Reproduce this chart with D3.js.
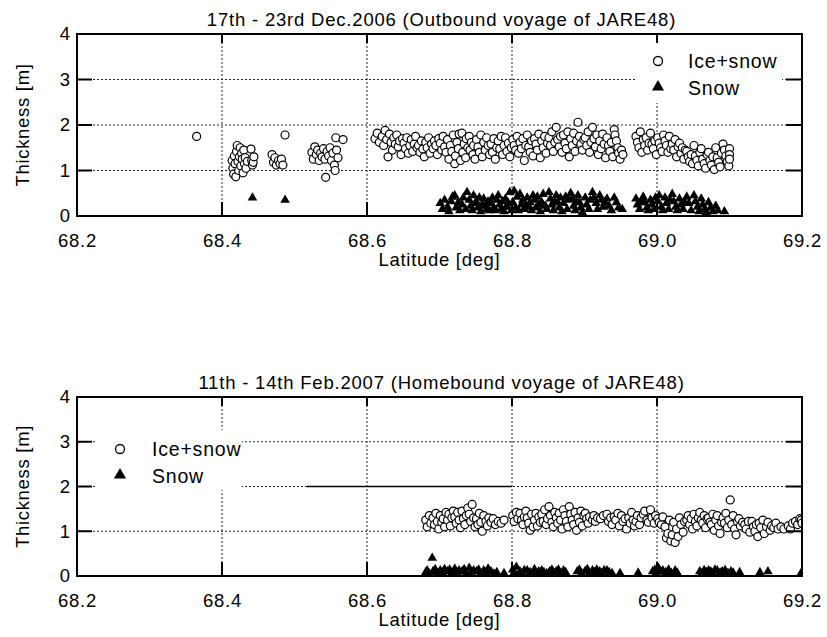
<!DOCTYPE html>
<html>
<head>
<meta charset="utf-8">
<script src="https://cdn.jsdelivr.net/npm/d3@7"></script>
<style>
  body { margin: 0; background: #fff; }
  text { font-family: "Liberation Sans", Arial, sans-serif; }
</style>
</head>
<body>
<div class="chart"></div>
<script>
// axis ticks
const latTicks = [68.2, 68.4, 68.6, 68.8, 69.0, 69.2];
const thkTicks = [0, 1, 2, 3, 4];

// titles
const outTitle = "17th - 23rd Dec.2006 (Outbound voyage of JARE48)";
const inTitle = "11th - 14th Feb.2007 (Homebound voyage of JARE48)";
const legendNames = ["Ice+snow", "Snow"];

// outbound: [latitude, thickness]
const outIce = [
  [68.365,1.75],
  [68.414,1.22],[68.415,1.05],[68.416,0.92],[68.417,1.32],[68.418,1.15],[68.419,0.86],[68.42,1.42],[68.421,1.55],
  [68.422,1.20],[68.423,1.00],[68.424,1.30],[68.425,1.50],[68.426,1.10],[68.427,1.38],[68.428,1.25],[68.429,0.95],
  [68.43,1.45],[68.431,1.15],[68.432,1.28],[68.433,1.05],[68.435,1.20],
  [68.44,1.47],[68.441,1.22],[68.442,1.12],[68.443,1.18],[68.444,1.30],
  [68.469,1.35],[68.471,1.18],[68.473,1.28],[68.475,1.12],[68.478,1.22],[68.48,1.15],[68.482,1.25],[68.484,1.12],[68.487,1.78],
  [68.524,1.40],[68.526,1.25],[68.528,1.52],[68.53,1.35],[68.532,1.45],[68.534,1.22],[68.536,1.38],[68.538,1.30],
  [68.54,1.48],[68.542,1.25],[68.543,0.85],[68.545,1.42],[68.547,1.32],[68.549,1.50],[68.551,1.22],[68.553,1.38],
  [68.555,1.12],[68.556,1.00],[68.557,1.72],[68.558,1.45],[68.56,1.28],[68.567,1.68],
  [68.611,1.70],[68.614,1.82],[68.617,1.62],
  [68.621,1.75],[68.623,1.55],[68.625,1.88],[68.627,1.68],[68.629,1.30],
  [68.631,1.80],[68.633,1.62],[68.635,1.45],[68.637,1.72],[68.639,1.58],
  [68.641,1.78],[68.643,1.52],[68.645,1.65],[68.647,1.35],[68.649,1.70],
  [68.651,1.60],[68.653,1.48],[68.655,1.72],[68.657,1.38],[68.659,1.55],
  [68.661,1.68],[68.663,1.42],[68.665,1.58],[68.667,1.75],[68.669,1.50],
  [68.671,1.55],[68.673,1.40],[68.675,1.65],[68.677,1.47],[68.679,1.30],
  [68.681,1.62],[68.683,1.50],[68.685,1.72],[68.687,1.38],[68.689,1.58],
  [68.691,1.48],[68.693,1.65],[68.695,1.55],[68.697,1.35],[68.699,1.70],
  [68.701,1.60],[68.703,1.45],[68.705,1.75],[68.707,1.52],[68.709,1.40],
  [68.711,1.68],[68.713,1.25],[68.715,1.55],[68.717,1.42],[68.719,1.78],
  [68.721,1.15],[68.722,1.32],[68.724,1.62],[68.726,1.48],[68.727,1.80],[68.729,1.22],
  [68.731,1.82],[68.732,1.40],[68.734,1.58],[68.736,1.28],[68.737,1.70],[68.739,1.50],
  [68.741,1.75],[68.742,1.45],[68.744,1.62],[68.746,1.35],[68.747,1.55],[68.749,1.25],
  [68.751,1.68],[68.753,1.52],[68.755,1.40],[68.757,1.78],[68.759,1.30],
  [68.761,1.62],[68.763,1.45],[68.765,1.72],[68.767,1.55],[68.769,1.35],
  [68.771,1.58],[68.773,1.40],[68.775,1.70],[68.777,1.25],[68.779,1.50],
  [68.781,1.65],[68.783,1.48],[68.785,1.75],[68.787,1.35],[68.789,1.55],
  [68.791,1.72],[68.793,1.42],[68.795,1.60],[68.797,1.30],[68.799,1.50],
  [68.801,1.68],[68.803,1.55],[68.805,1.45],[68.807,1.75],[68.809,1.38],
  [68.811,1.62],[68.813,1.48],[68.815,1.70],[68.817,1.22],[68.819,1.55],
  [68.821,1.78],[68.823,1.52],[68.825,1.40],[68.827,1.65],[68.829,1.32],
  [68.831,1.70],[68.833,1.58],[68.835,1.45],[68.837,1.80],[68.839,1.28],
  [68.841,1.65],[68.843,1.50],[68.845,1.75],[68.847,1.38],[68.849,1.60],
  [68.851,1.72],[68.853,1.55],[68.855,1.85],[68.857,1.42],[68.859,1.62],
  [68.861,1.95],[68.863,1.68],[68.865,1.52],[68.867,1.75],[68.869,1.40],
  [68.871,1.78],[68.873,1.60],[68.875,1.48],[68.877,1.85],[68.879,1.30],
  [68.881,1.70],[68.883,1.55],[68.885,1.82],[68.887,1.42],[68.889,1.65],
  [68.891,2.06],[68.893,1.75],[68.895,1.58],[68.897,1.45],[68.899,1.68],
  [68.901,1.72],[68.903,1.55],[68.905,1.85],[68.907,1.40],[68.909,1.62],
  [68.911,1.95],[68.913,1.70],[68.915,1.52],[68.917,1.78],[68.919,1.35],
  [68.921,1.65],[68.923,1.48],[68.925,1.80],[68.927,1.58],[68.929,1.28],
  [68.931,1.72],[68.933,1.55],[68.935,1.42],[68.937,1.62],[68.939,1.30],
  [68.941,1.90],[68.942,1.78],[68.944,1.65],[68.946,1.50],[68.947,1.38],[68.949,1.25],
  [68.951,1.45],[68.953,1.35],
  [68.971,1.75],[68.973,1.62],[68.975,1.50],[68.977,1.85],[68.979,1.40],
  [68.981,1.68],[68.983,1.55],[68.985,1.72],[68.987,1.45],[68.989,1.60],
  [68.991,1.82],[68.993,1.58],[68.995,1.48],[68.997,1.65],[68.999,1.35],
  [69.001,1.72],[69.003,1.60],[69.005,1.50],[69.007,1.42],[69.009,1.78],
  [69.011,1.65],[69.013,1.55],[69.015,1.40],[69.017,1.75],[69.019,1.48],
  [69.021,1.58],[69.023,1.45],[69.025,1.68],[69.027,1.30],[69.029,1.52],
  [69.031,1.60],[69.033,1.38],[69.035,1.50],[69.037,1.25],[69.039,1.45],
  [69.041,1.42],[69.043,1.30],[69.045,1.20],[69.047,1.35],[69.049,1.15],
  [69.051,1.55],[69.053,1.32],[69.055,1.22],[69.057,1.10],[69.059,1.40],
  [69.061,1.48],[69.063,1.25],[69.065,1.15],[69.067,1.05],[69.069,1.35],
  [69.071,1.40],[69.073,1.22],[69.075,1.12],[69.077,1.30],[69.079,1.02],
  [69.081,1.50],[69.083,1.28],[69.085,1.18],[69.087,1.08],[69.089,1.38],
  [69.091,1.58],[69.093,1.45],[69.095,1.32],[69.097,1.20],[69.099,1.10],
  [69.1,1.48],[69.1,1.35],[69.1,1.25]
];

const outSnow = [
  [68.442,0.40],[68.487,0.35],
  [68.701,0.28],[68.704,0.15],[68.707,0.35],
  [68.711,0.20],[68.713,0.10],[68.716,0.32],[68.718,0.42],
  [68.721,0.45],[68.723,0.18],[68.726,0.30],[68.728,0.12],
  [68.731,0.25],[68.733,0.40],[68.736,0.15],[68.738,0.52],
  [68.741,0.35],[68.743,0.22],[68.745,0.12],[68.747,0.45],[68.749,0.28],
  [68.751,0.30],[68.753,0.18],[68.755,0.40],[68.757,0.10],[68.759,0.25],
  [68.761,0.38],[68.763,0.22],[68.765,0.15],[68.767,0.32],[68.769,0.12],
  [68.771,0.28],[68.773,0.40],[68.775,0.18],[68.777,0.12],[68.779,0.35],
  [68.781,0.45],[68.783,0.25],[68.785,0.15],[68.787,0.32],[68.789,0.10],
  [68.791,0.38],[68.793,0.20],[68.795,0.28],[68.797,0.52],[68.799,0.12],
  [68.801,0.30],[68.803,0.55],[68.805,0.18],[68.807,0.42],[68.809,0.12],
  [68.811,0.48],[68.813,0.25],[68.815,0.35],[68.817,0.15],[68.819,0.22],
  [68.821,0.40],[68.823,0.20],[68.825,0.30],[68.827,0.12],[68.829,0.45],
  [68.831,0.35],[68.833,0.18],[68.835,0.42],[68.837,0.25],[68.839,0.10],
  [68.841,0.30],[68.843,0.48],[68.846,0.22],[68.848,0.15],
  [68.851,0.52],[68.853,0.38],[68.855,0.25],[68.857,0.12],[68.859,0.30],
  [68.861,0.45],[68.863,0.30],[68.865,0.18],[68.867,0.40],[68.869,0.10],
  [68.871,0.28],[68.874,0.42],[68.876,0.15],[68.878,0.35],
  [68.881,0.50],[68.883,0.38],[68.885,0.22],[68.887,0.12],[68.889,0.30],
  [68.891,0.45],[68.893,0.30],[68.895,0.18],[68.897,0.08],
  [68.901,0.40],[68.903,0.25],[68.906,0.15],[68.908,0.35],
  [68.911,0.52],[68.913,0.40],[68.916,0.28],[68.918,0.15],
  [68.921,0.45],[68.923,0.35],[68.926,0.20],[68.928,0.30],
  [68.931,0.38],[68.934,0.22],[68.937,0.12],
  [68.941,0.40],[68.944,0.30],[68.947,0.18],
  [68.952,0.15],
  [68.971,0.38],[68.973,0.25],[68.976,0.15],[68.978,0.30],
  [68.981,0.42],[68.983,0.30],[68.986,0.18],[68.988,0.12],
  [68.991,0.35],[68.993,0.25],[68.996,0.15],[68.998,0.40],
  [69.001,0.32],[69.003,0.45],[69.006,0.20],[69.008,0.12],
  [69.011,0.40],[69.013,0.28],[69.016,0.15],[69.018,0.35],
  [69.021,0.48],[69.023,0.32],[69.026,0.20],[69.028,0.12],
  [69.031,0.38],[69.033,0.25],[69.036,0.15],[69.038,0.30],
  [69.041,0.42],[69.044,0.28],[69.047,0.12],
  [69.051,0.45],[69.053,0.32],[69.056,0.20],[69.058,0.10],
  [69.061,0.38],[69.063,0.25],[69.066,0.15],[69.068,0.08],
  [69.071,0.30],[69.074,0.18],[69.077,0.10],
  [69.081,0.22],[69.084,0.12],
  [69.093,0.10]
];

// homebound: [latitude, thickness]
const inIce = [
  [68.681,1.25],[68.683,1.10],[68.686,1.35],[68.688,1.18],
  [68.691,1.30],[68.693,1.15],[68.695,1.40],[68.697,1.22],[68.699,1.05],
  [68.701,1.35],[68.703,1.20],[68.705,1.28],[68.707,1.10],[68.709,1.42],
  [68.711,1.25],[68.713,1.38],[68.715,1.12],[68.717,1.30],[68.719,1.45],
  [68.721,1.32],[68.723,1.18],[68.725,1.42],[68.727,1.25],[68.729,1.08],
  [68.731,1.45],[68.733,1.28],[68.735,1.15],[68.737,1.35],[68.739,1.52],
  [68.741,1.38],[68.743,1.22],[68.745,1.60],[68.747,1.30],[68.749,1.10],
  [68.751,1.28],[68.753,1.15],[68.755,1.40],[68.757,1.20],[68.759,1.00],
  [68.761,1.35],[68.764,1.22],[68.766,1.12],[68.768,1.30],
  [68.771,1.20],[68.774,1.28],[68.777,1.15],
  [68.781,1.22],[68.785,1.18],[68.789,1.25],
  [68.801,1.35],[68.803,1.22],[68.806,1.42],[68.808,1.28],
  [68.811,1.40],[68.813,1.25],[68.815,1.15],[68.817,1.32],[68.819,1.45],
  [68.821,1.30],[68.823,1.18],[68.825,1.02],[68.827,1.38],[68.829,1.10],
  [68.831,1.25],[68.833,1.40],[68.835,1.12],[68.837,1.32],[68.839,1.20],
  [68.841,1.38],[68.843,1.22],[68.845,1.48],[68.847,1.15],[68.849,1.28],
  [68.851,1.55],[68.853,1.35],[68.855,1.20],[68.857,1.10],[68.859,1.42],
  [68.861,1.30],[68.863,1.18],[68.865,1.40],[68.867,1.25],[68.869,1.05],
  [68.871,1.48],[68.873,1.35],[68.875,1.22],[68.877,1.10],[68.879,1.55],
  [68.881,1.38],[68.883,1.25],[68.885,1.15],[68.887,1.42],[68.889,1.02],
  [68.891,1.30],[68.893,1.20],[68.895,1.45],[68.897,1.12],[68.899,1.35],
  [68.901,1.40],[68.903,1.28],[68.905,1.18],[68.907,1.32],
  [68.911,1.25],[68.913,1.35],[68.915,1.22],[68.918,1.30],
  [68.922,1.28],[68.926,1.35],
  [68.931,1.38],[68.933,1.22],[68.936,1.30],[68.938,1.15],
  [68.941,1.32],[68.943,1.25],[68.946,1.40],[68.948,1.12],
  [68.951,1.35],[68.953,1.22],[68.956,1.28],[68.958,1.05],
  [68.961,1.30],[68.963,1.18],[68.965,1.42],[68.967,1.25],[68.969,1.12],
  [68.971,1.22],[68.973,1.35],[68.976,1.15],[68.978,1.30],
  [68.981,1.38],[68.983,1.45],[68.986,1.25],[68.988,1.20],
  [68.991,1.48],[68.993,1.30],[68.996,1.18],[68.998,1.35],
  [69.001,1.28],[69.003,1.20],[69.006,1.15],[69.008,1.32],
  [69.011,1.10],[69.013,0.85],[69.015,0.95],[69.017,1.25],[69.019,0.78],
  [69.021,0.92],[69.023,1.20],[69.025,0.75],[69.027,1.05],[69.029,0.88],
  [69.031,1.30],[69.033,1.15],[69.036,0.98],[69.038,1.22],
  [69.041,1.25],[69.043,1.35],[69.045,1.15],[69.047,1.28],[69.049,1.05],
  [69.051,1.38],[69.053,1.22],[69.055,1.12],[69.057,1.30],[69.059,1.42],
  [69.061,1.25],[69.063,1.18],[69.065,1.35],[69.067,1.08],[69.069,1.28],
  [69.071,1.30],[69.073,1.20],[69.075,1.15],[69.077,1.38],[69.079,1.02],
  [69.081,1.25],[69.083,1.35],[69.085,1.12],[69.087,0.95],[69.089,1.20],
  [69.091,1.30],[69.093,1.18],[69.095,1.40],[69.097,1.08],[69.099,1.25],
  [69.101,1.70],[69.103,1.15],[69.105,1.35],[69.107,1.05],[69.109,0.92],
  [69.111,1.22],[69.113,1.28],[69.115,1.12],[69.118,1.20],
  [69.121,1.15],[69.123,1.05],[69.126,1.22],[69.128,0.98],
  [69.131,1.22],[69.133,1.10],[69.135,1.00],[69.137,1.15],[69.139,0.88],
  [69.141,1.18],[69.143,1.08],[69.146,1.25],[69.148,0.95],
  [69.151,1.10],[69.153,1.20],[69.156,1.02],[69.158,1.12],
  [69.161,1.08],[69.164,1.18],[69.167,1.05],
  [69.171,1.10],[69.175,1.05],
  [69.181,1.12],[69.184,1.05],[69.187,1.18],
  [69.191,1.22],[69.194,1.15],[69.197,1.28],
  [69.199,1.25],[69.2,1.18]
];

const inSnow = [
  [68.681,0.08],[68.683,0.12],[68.686,0.05],
  [68.69,0.40],[68.691,0.10],[68.694,0.15],[68.697,0.06],
  [68.701,0.12],[68.704,0.08],[68.707,0.15],
  [68.711,0.10],[68.714,0.14],[68.717,0.06],
  [68.721,0.16],[68.724,0.08],[68.727,0.12],
  [68.731,0.10],[68.734,0.15],[68.737,0.06],
  [68.741,0.18],[68.744,0.08],[68.747,0.12],
  [68.751,0.10],[68.754,0.14],[68.757,0.06],
  [68.761,0.12],[68.764,0.08],[68.767,0.16],
  [68.771,0.10],[68.775,0.05],[68.779,0.08],
  [68.789,0.06],
  [68.801,0.14],[68.803,0.08],[68.806,0.20],
  [68.811,0.10],[68.814,0.06],[68.817,0.13],
  [68.821,0.12],[68.825,0.08],[68.828,0.06],
  [68.831,0.15],[68.834,0.06],[68.837,0.10],
  [68.841,0.12],[68.844,0.08],[68.848,0.06],
  [68.852,0.10],[68.855,0.14],[68.858,0.06],
  [68.861,0.10],[68.864,0.14],[68.867,0.06],
  [68.871,0.12],[68.874,0.08],
  [68.89,0.10],[68.893,0.14],[68.896,0.06],
  [68.901,0.11],[68.904,0.15],[68.907,0.06],
  [68.911,0.12],[68.914,0.08],[68.917,0.14],
  [68.921,0.10],[68.924,0.06],[68.927,0.13],
  [68.931,0.12],[68.934,0.08],[68.938,0.06],
  [68.949,0.06],
  [68.974,0.07],
  [68.994,0.10],[68.997,0.14],[68.999,0.07],
  [69.002,0.18],[69.005,0.10],[69.008,0.12],
  [69.012,0.08],[69.016,0.14],[69.02,0.06],
  [69.025,0.12],[69.028,0.07],
  [69.059,0.10],[69.062,0.06],[69.065,0.13],
  [69.068,0.08],[69.071,0.12],[69.074,0.10],
  [69.077,0.06],[69.08,0.14],[69.083,0.12],
  [69.087,0.07],[69.09,0.10],[69.094,0.13],
  [69.098,0.06],[69.102,0.10],[69.105,0.07],
  [69.114,0.08],
  [69.142,0.08],[69.153,0.10],
  [69.199,0.07]
];

// stray solid stretch of the 2 m line in the homebound panel
const inStrayLine = [[68.517, 2], [68.8, 2]];

function init(){

    const w = 827, h = 637;
    const left = 77, right = 802;
    const fontSize = "18.5px", spacing = "0.7px";

    const svg = d3.select(".chart").append("svg")
      .attr("width", w).attr("height", h);

    const x = d3.scaleLinear().domain([68.2, 69.2]).range([left, right]);

    const tri = d3.symbol().type(d3.symbolTriangle).size(40);

    function panel(o){
        const y = d3.scaleLinear().domain([0, 4]).range([o.bottom, o.top]);
        const g = svg.append("g");

        g.append("clipPath").attr("id", o.id)
          .append("rect")
          .attr("x", left).attr("y", o.top)
          .attr("width", right - left).attr("height", o.bottom - o.top);

        // dotted grid
        g.selectAll(".hgrid")
          .data(thkTicks.slice(1, -1))
          .join("line")
          .attr("x1", left).attr("x2", right)
          .attr("y1", d => y(d)).attr("y2", d => y(d))
          .attr("stroke", "#222").attr("stroke-width", 1)
          .attr("stroke-dasharray", "2,2");

        g.selectAll(".vgrid")
          .data(latTicks.slice(1, -1))
          .join("line")
          .attr("x1", d => x(d)).attr("x2", d => x(d))
          .attr("y1", o.top).attr("y2", o.bottom)
          .attr("stroke", "#222").attr("stroke-width", 1)
          .attr("stroke-dasharray", "2,2");

        // legend box hides the grid beneath it
        g.append("rect")
          .attr("x", o.legend.x0).attr("y", o.legend.y0)
          .attr("width", o.legend.x1 - o.legend.x0)
          .attr("height", o.legend.y1 - o.legend.y0)
          .attr("fill", "#fff");

        if (o.stray) {
            g.append("path")
              .datum(o.stray)
              .attr("d", d3.line().x(d => x(d[0])).y(d => y(d[1])))
              .attr("stroke", "#000").attr("stroke-width", 1.6).attr("fill", "none");
        }

        const marks = g.append("g").attr("clip-path", `url(#${o.id})`);

        marks.selectAll(".snow")
          .data(o.snow)
          .join("path")
          .attr("d", tri)
          .attr("transform", d => `translate(${x(d[0])},${y(d[1])})`)
          .attr("fill", "#000");

        marks.selectAll(".ice")
          .data(o.ice)
          .join("circle")
          .attr("cx", d => x(d[0]))
          .attr("cy", d => y(d[1]))
          .attr("r", 4)
          .attr("fill", "#fff")
          .attr("stroke", "#000")
          .attr("stroke-width", 1.2);

        // frame
        g.append("rect")
          .attr("x", left).attr("y", o.top)
          .attr("width", right - left).attr("height", o.bottom - o.top)
          .attr("fill", "none").attr("stroke", "#000").attr("stroke-width", 2);

        // inward tick marks
        const inner = thkTicks.slice(1, -1), innerX = latTicks.slice(1, -1);
        g.selectAll(".lt").data(inner).join("line")
          .attr("x1", left).attr("x2", left + 15)
          .attr("y1", d => y(d)).attr("y2", d => y(d))
          .attr("stroke", "#000").attr("stroke-width", 2);
        g.selectAll(".rt").data(inner).join("line")
          .attr("x1", right - 16).attr("x2", right)
          .attr("y1", d => y(d)).attr("y2", d => y(d))
          .attr("stroke", "#000").attr("stroke-width", 2);
        g.selectAll(".bt").data(innerX).join("line")
          .attr("x1", d => x(d)).attr("x2", d => x(d))
          .attr("y1", o.bottom - 14).attr("y2", o.bottom)
          .attr("stroke", "#000").attr("stroke-width", 2);
        g.selectAll(".tt").data(innerX).join("line")
          .attr("x1", d => x(d)).attr("x2", d => x(d))
          .attr("y1", o.top).attr("y2", o.top + 9)
          .attr("stroke", "#000").attr("stroke-width", 2);

        // tick labels
        g.append("g")
          .attr("transform", `translate(0,${o.bottom})`)
          .call(d3.axisBottom(x).tickValues(latTicks).tickFormat(d3.format(".1f")).tickSize(0).tickPadding(18))
          .call(a => a.select(".domain").remove())
          .call(a => a.selectAll("text")
            .attr("font-family", "Liberation Sans, Arial, sans-serif")
            .attr("font-size", fontSize).attr("letter-spacing", spacing).attr("fill", "#000"));

        g.append("g")
          .attr("transform", `translate(${left},0)`)
          .call(d3.axisLeft(y).tickValues(thkTicks).tickFormat(d3.format("d")).tickSize(0).tickPadding(7))
          .call(a => a.select(".domain").remove())
          .call(a => a.selectAll("text")
            .attr("font-family", "Liberation Sans, Arial, sans-serif")
            .attr("font-size", fontSize).attr("fill", "#000"));

        // titles
        g.append("text")
          .attr("x", (left + right) / 2 + 2).attr("y", o.top - 8)
          .attr("text-anchor", "middle")
          .attr("font-size", "18.5px").attr("letter-spacing", "0.8px")
          .text(o.title);

        g.append("text")
          .attr("x", (left + right) / 2).attr("y", o.bottom + 50)
          .attr("text-anchor", "middle")
          .attr("font-size", fontSize).attr("letter-spacing", spacing)
          .text("Latitude [deg]");

        g.append("text")
          .attr("transform", `translate(29,${(o.top + o.bottom) / 2}) rotate(-90)`)
          .attr("text-anchor", "middle")
          .attr("font-size", fontSize).attr("letter-spacing", spacing)
          .text("Thickness [m]");

        // legend
        const lg = o.legend;
        g.append("circle")
          .attr("cx", lg.mx).attr("cy", lg.my)
          .attr("r", 4.5).attr("fill", "#fff").attr("stroke", "#000").attr("stroke-width", 1.3);
        g.append("path")
          .attr("d", d3.symbol().type(d3.symbolTriangle).size(64))
          .attr("transform", `translate(${lg.mx},${lg.my + 26})`);
        g.selectAll(".lgtext").data(legendNames).join("text")
          .attr("x", lg.tx).attr("y", (d, i) => lg.my + 7 + i * 27)
          .attr("font-size", "19.5px").attr("letter-spacing", "0.8px")
          .text(d => d);
    }

    panel({
        id: "clipOut", top: 34, bottom: 216, title: outTitle,
        ice: outIce, snow: outSnow,
        legend: {x0: 637, x1: 782, y0: 42, y1: 103, mx: 658, my: 61, tx: 688}
    });

    panel({
        id: "clipIn", top: 397, bottom: 576, title: inTitle,
        ice: inIce, snow: inSnow, stray: inStrayLine,
        legend: {x0: 97, x1: 242, y0: 430, y1: 490, mx: 120, my: 449, tx: 152}
    });
}
window.onload = init;
</script>
</body>
</html>
